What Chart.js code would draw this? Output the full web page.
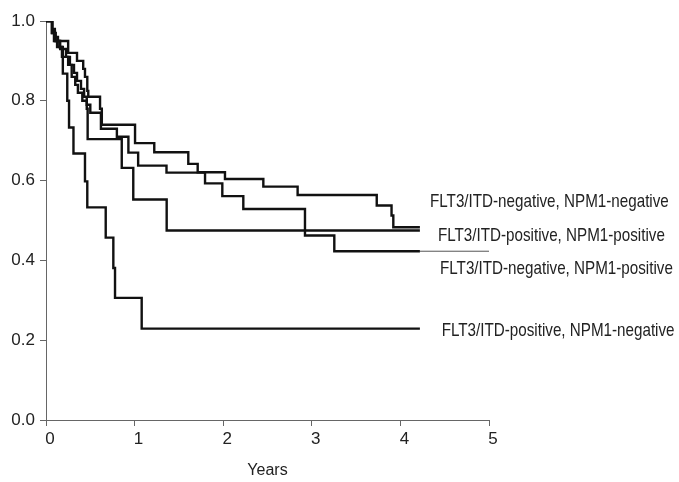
<!DOCTYPE html>
<html><head><meta charset="utf-8">
<script src="https://cdn.jsdelivr.net/npm/chart.js@4/dist/chart.umd.min.js"></script>
<style>html,body{margin:0;padding:0;background:#fff}#wrap{position:relative;width:679px;height:482px}</style>
</head><body><div id="wrap"><canvas id="c" width="679" height="482"></canvas></div>
<script>
// ---- data ----
const seriesNames = [
  'FLT3/ITD-negative, NPM1-negative',
  'FLT3/ITD-positive, NPM1-positive',
  'FLT3/ITD-negative, NPM1-positive',
  'FLT3/ITD-positive, NPM1-negative'
];
// Kaplan-Meier steps: time (years) at which survival becomes the given value
const timesNegNeg = [0, 0.07, 0.10, 0.135, 0.25, 0.35, 0.42, 0.44, 0.466, 0.477, 0.61, 0.63, 1.005, 1.222, 1.606, 1.712, 2.02, 2.453, 2.84, 3.733, 3.90, 3.92, 4.22];
const survNegNeg  = [1.0, 0.98, 0.96, 0.95, 0.92, 0.90, 0.88, 0.86, 0.825, 0.81, 0.78, 0.74, 0.694, 0.671, 0.642, 0.621, 0.604, 0.585, 0.564, 0.5375, 0.5125, 0.483, 0.483];

const timesPosPos = [0, 0.065, 0.09, 0.125, 0.18, 0.25, 0.29, 0.33, 0.36, 0.41, 0.46, 0.47, 0.855, 0.985, 1.362, 4.22];
const survPosPos  = [1.0, 0.97, 0.95, 0.935, 0.91, 0.89, 0.86, 0.84, 0.82, 0.80, 0.78, 0.704, 0.632, 0.5525, 0.475, 0.475];

const timesNegPos = [0, 0.07, 0.11, 0.16, 0.226, 0.27, 0.316, 0.35, 0.395, 0.43, 0.46, 0.50, 0.62, 0.80, 0.93, 1.04, 1.36, 1.795, 1.99, 2.227, 2.923, 3.254, 4.22];
const survNegPos  = [1.0, 0.97, 0.95, 0.93, 0.91, 0.89, 0.87, 0.85, 0.83, 0.81, 0.79, 0.77, 0.73, 0.71, 0.67, 0.6375, 0.62, 0.593, 0.561, 0.529, 0.4625, 0.423, 0.423];

const timesPosNeg = [0, 0.07, 0.10, 0.15, 0.19, 0.24, 0.26, 0.31, 0.44, 0.466, 0.674, 0.76, 0.779, 1.08, 4.22];
const survPosNeg  = [1.0, 0.975, 0.95, 0.935, 0.868, 0.80, 0.733, 0.668, 0.598, 0.533, 0.457, 0.381, 0.306, 0.229, 0.229];

// thin continuation of the FLT3/ITD-negative, NPM1-positive curve
const tailTimes = [4.22, 5.0];

const xTickLabels = ['0', '1', '2', '3', '4', '5'];
const yTickLabels = ['0.0', '0.2', '0.4', '0.6', '0.8', '1.0'];
const xAxisTitle = 'Years';

// ---- build ----
const FONT = "'Liberation Sans', Arial, sans-serif";
const zip = (t, s) => t.map((x, i) => ({x: x, y: s[i]}));
const line = (t, s) => ({data: zip(t, s), stepped: 'before', borderColor: '#111', borderWidth: 2.4, pointRadius: 0, fill: false, tension: 0});

const datasets = [
  line(timesNegNeg, survNegNeg),
  line(timesPosPos, survPosPos),
  line(timesNegPos, survNegPos),
  line(timesPosNeg, survPosNeg),
  {data: tailTimes.map(t => ({x: t, y: survNegPos[survNegPos.length - 1]})), borderColor: '#555', borderWidth: 1, pointRadius: 0, fill: false}
];

// label anchors in data units (left edge time, vertical centre value)
const labelAnchors = [[4.334, 0.546], [4.424, 0.4625], [4.447, 0.38], [4.466, 0.223]];
const NARROW = 0.80; // emulate a condensed face

const labelPlugin = {
  id: 'curveLabels',
  afterDatasetsDraw(chart) {
    const {ctx, scales: {x, y}} = chart;
    ctx.save();
    ctx.fillStyle = '#222';
    ctx.font = '19px ' + FONT;
    ctx.textAlign = 'left';
    ctx.textBaseline = 'middle';
    seriesNames.forEach((n, i) => {
      const px = x.getPixelForValue(labelAnchors[i][0]);
      const py = y.getPixelForValue(labelAnchors[i][1]);
      ctx.save();
      ctx.translate(px, py);
      ctx.scale(NARROW, 1);
      ctx.fillText(n, 0, 0);
      ctx.restore();
    });
    ctx.restore();
  }
};

new Chart(document.getElementById('c'), {
  type: 'line',
  data: {datasets},
  plugins: [labelPlugin],
  options: {
    responsive: false,
    animation: false,
    devicePixelRatio: 1,
    layout: {padding: {top: 21, right: 190, left: 0, bottom: 0}},
    plugins: {legend: {display: false}, tooltip: {enabled: false}},
    scales: {
      x: {
        type: 'linear', min: 0, max: 5,
        afterFit(s) { s.height = 62; },
        ticks: {stepSize: 1, color: '#222', font: {family: FONT, size: 17}, padding: 3, labelOffset: 4,
          callback: (v) => xTickLabels[Math.round(v)]},
        grid: {drawOnChartArea: false, drawTicks: true, tickLength: 6, color: '#666'},
        border: {color: '#666', width: 1},
        title: {display: true, text: xAxisTitle, color: '#222', font: {family: FONT, size: 16}, padding: {top: 6, bottom: 2}}
      },
      y: {
        type: 'linear', min: 0, max: 1,
        afterFit(s) { s.width = 46; },
        ticks: {stepSize: 0.2, color: '#222', font: {family: FONT, size: 17}, padding: 5,
          callback: (v) => yTickLabels[Math.round(v * 5)]},
        grid: {drawOnChartArea: false, drawTicks: true, tickLength: 6, color: '#666'},
        border: {color: '#666', width: 1}
      }
    }
  }
});
</script></body></html>
